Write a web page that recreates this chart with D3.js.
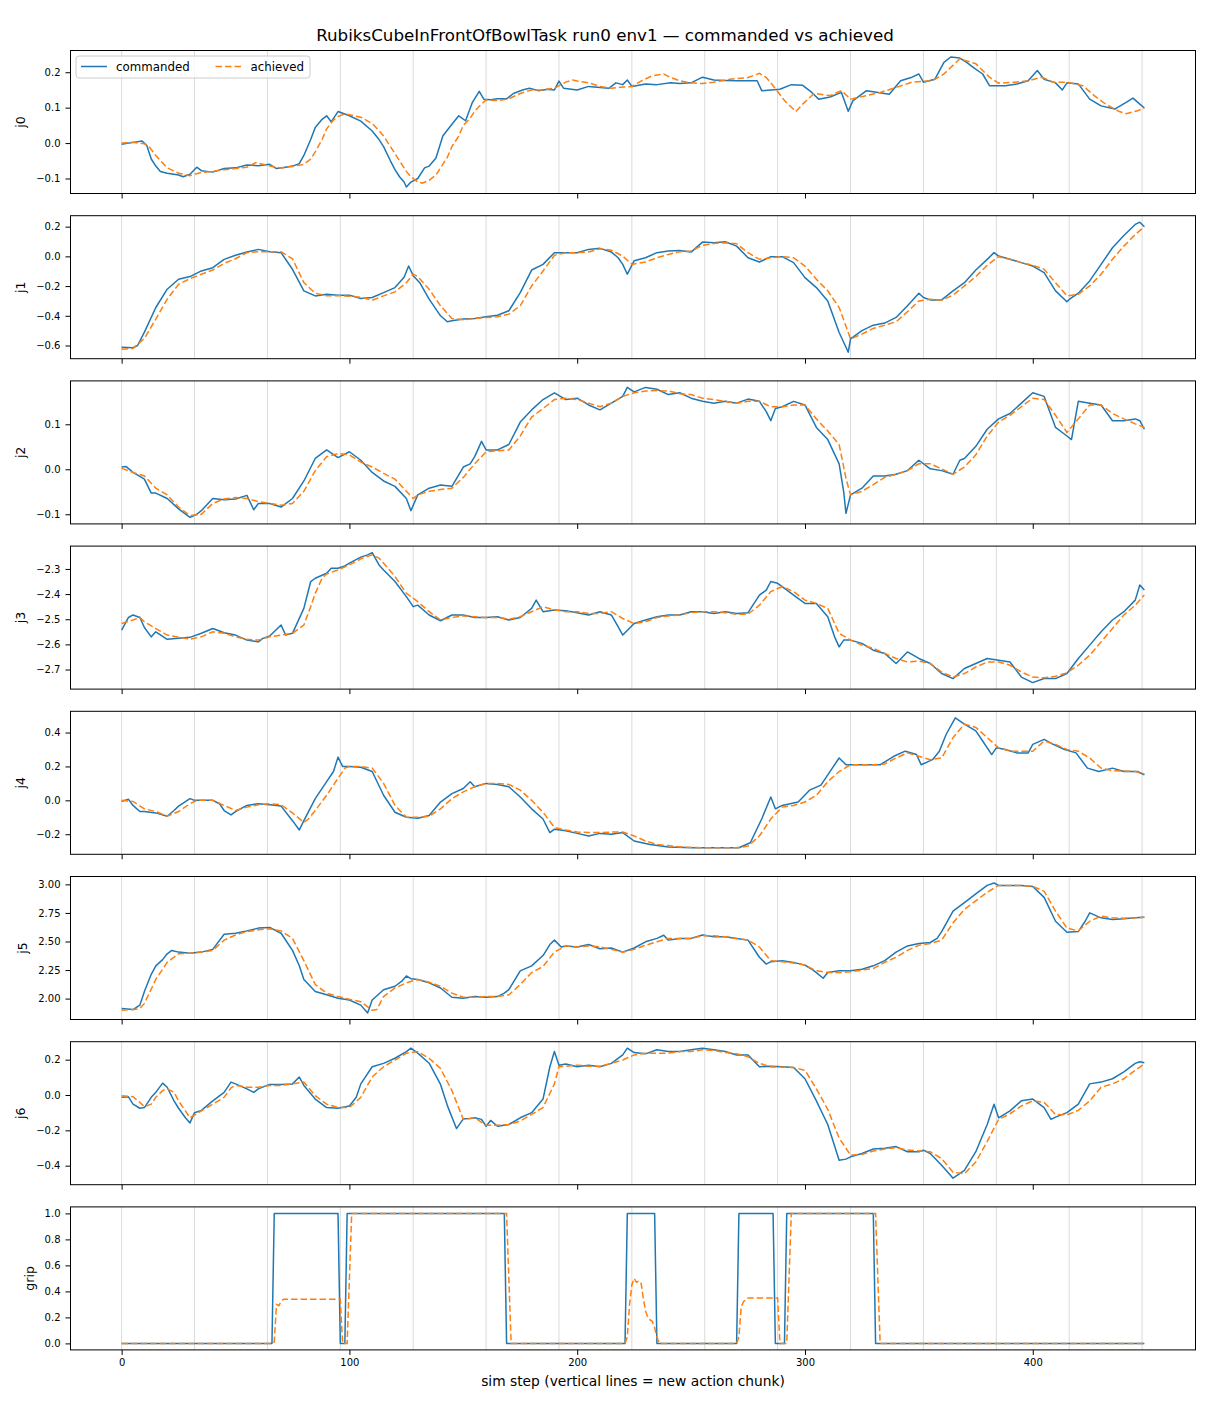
<!DOCTYPE html>
<html>
<head>
<meta charset="utf-8">
<script src="https://cdn.jsdelivr.net/npm/d3@7"></script>
<style>
  body { margin: 0; background: #fff; }
  svg text { font-family: "DejaVu Sans", sans-serif; fill: #000; }
</style>
</head>
<body>
<svg id="chart"></svg>
<script>
// values, as [sim step, value]
const chunkStarts = [0, 32, 64, 96, 128, 160, 192, 224, 256, 288, 320, 352, 384, 416, 448];
const xTickValues = [0, 100, 200, 300, 400];
const jointNames = ['j0', 'j1', 'j2', 'j3', 'j4', 'j5', 'j6', 'grip'];

const j0Commanded = [[0,-0.003],[5,0.002],[9,0.006],[11,-0.006],[13,-0.045],[15,-0.065],[17,-0.08],[20,-0.085],[25,-0.09],[27,-0.095],[30,-0.088],[33,-0.068],[35,-0.078],[40,-0.082],[45,-0.072],[50,-0.07],[55,-0.062],[60,-0.064],[65,-0.06],[68,-0.072],[72,-0.068],[75,-0.065],[78,-0.058],[80,-0.035],[83,0.01],[85,0.044],[88,0.067],[90,0.077],[92,0.06],[95,0.089],[100,0.077],[105,0.062],[110,0.034],[113,0.01],[115,-0.01],[118,-0.05],[120,-0.075],[122,-0.095],[124,-0.11],[125,-0.124],[127,-0.11],[130,-0.1],[133,-0.07],[135,-0.065],[138,-0.042],[141,0.02],[145,0.053],[148,0.077],[151,0.063],[154,0.115],[157,0.146],[159,0.124],[162,0.122],[165,0.125],[169,0.125],[172,0.14],[176,0.15],[179,0.155],[183,0.148],[187,0.152],[190,0.15],[192,0.175],[194,0.155],[200,0.15],[205,0.16],[210,0.157],[214,0.155],[217,0.17],[220,0.165],[222,0.178],[224,0.16],[230,0.167],[235,0.165],[241,0.17],[245,0.168],[250,0.17],[255,0.186],[260,0.178],[265,0.177],[270,0.176],[275,0.176],[279,0.176],[281,0.148],[285,0.15],[289,0.152],[294,0.165],[299,0.163],[303,0.143],[306,0.124],[311,0.13],[316,0.143],[319,0.09],[321,0.119],[327,0.148],[330,0.145],[337,0.138],[342,0.176],[347,0.186],[350,0.195],[352,0.172],[357,0.18],[361,0.228],[364,0.243],[368,0.24],[371,0.228],[374,0.213],[378,0.195],[381,0.162],[388,0.162],[393,0.167],[398,0.176],[402,0.205],[405,0.18],[410,0.17],[413,0.15],[415,0.17],[420,0.167],[425,0.124],[430,0.105],[436,0.096],[441,0.115],[444,0.127],[447,0.11],[449,0.099]];
const j0Achieved = [[0,0],[5,0.002],[10,-0.002],[12,-0.01],[15,-0.035],[20,-0.07],[25,-0.085],[30,-0.092],[35,-0.083],[40,-0.08],[45,-0.075],[50,-0.072],[55,-0.068],[59,-0.055],[62,-0.06],[65,-0.065],[70,-0.07],[75,-0.066],[80,-0.06],[83,-0.045],[85,-0.025],[88,0.01],[90,0.04],[93,0.065],[95,0.075],[98,0.082],[100,0.08],[105,0.073],[110,0.055],[113,0.035],[115,0.02],[118,-0.01],[120,-0.03],[123,-0.06],[125,-0.08],[127,-0.095],[130,-0.11],[132,-0.113],[135,-0.105],[138,-0.09],[140,-0.07],[143,-0.04],[145,-0.01],[148,0.02],[150,0.05],[153,0.07],[155,0.09],[158,0.11],[160,0.122],[165,0.12],[170,0.125],[175,0.14],[180,0.15],[185,0.15],[190,0.155],[195,0.172],[198,0.178],[200,0.175],[205,0.17],[210,0.16],[215,0.155],[220,0.158],[224,0.16],[228,0.175],[233,0.19],[238,0.195],[241,0.185],[245,0.176],[250,0.17],[255,0.168],[260,0.172],[267,0.18],[275,0.185],[280,0.197],[283,0.185],[286,0.162],[291,0.12],[296,0.089],[299,0.11],[304,0.14],[311,0.134],[316,0.148],[320,0.124],[327,0.134],[333,0.143],[340,0.157],[347,0.172],[356,0.176],[361,0.195],[368,0.238],[375,0.224],[381,0.186],[385,0.169],[392,0.172],[398,0.176],[404,0.186],[409,0.172],[415,0.172],[422,0.162],[427,0.134],[432,0.11],[438,0.089],[441,0.083],[446,0.091],[449,0.099]];

const j1Commanded = [[0,-0.612],[5,-0.615],[7,-0.6],[10,-0.51],[15,-0.344],[20,-0.221],[25,-0.154],[30,-0.136],[35,-0.098],[40,-0.076],[45,-0.02],[50,0.007],[55,0.029],[60,0.047],[65,0.031],[70,0.025],[75,-0.087],[80,-0.232],[85,-0.266],[90,-0.255],[95,-0.262],[100,-0.261],[105,-0.284],[110,-0.277],[115,-0.244],[120,-0.21],[124,-0.14],[126,-0.065],[128,-0.13],[131,-0.18],[135,-0.288],[140,-0.4],[143,-0.44],[145,-0.434],[150,-0.422],[155,-0.418],[160,-0.407],[165,-0.396],[170,-0.366],[175,-0.244],[180,-0.092],[185,-0.054],[190,0.025],[195,0.025],[200,0.025],[205,0.047],[210,0.054],[215,0.029],[218,-0.009],[220,-0.054],[222,-0.12],[225,-0.03],[230,-0.009],[235,0.025],[240,0.036],[245,0.04],[250,0.029],[255,0.096],[260,0.092],[265,0.098],[270,0.069],[275,-0.009],[280,-0.038],[285,-0.002],[290,-0.002],[295,-0.042],[300,-0.143],[305,-0.21],[310,-0.3],[315,-0.512],[318,-0.612],[319,-0.645],[320,-0.556],[325,-0.5],[330,-0.463],[335,-0.449],[340,-0.411],[345,-0.333],[350,-0.248],[352,-0.277],[355,-0.293],[360,-0.293],[365,-0.232],[370,-0.177],[375,-0.092],[380,-0.02],[383,0.025],[385,0.002],[390,-0.02],[395,-0.042],[400,-0.065],[405,-0.11],[410,-0.232],[415,-0.306],[416,-0.29],[420,-0.248],[425,-0.165],[430,-0.054],[435,0.058],[440,0.141],[445,0.215],[447,0.23],[449,0.199]];
const j1Achieved = [[0,-0.625],[5,-0.62],[8,-0.579],[10,-0.552],[15,-0.422],[20,-0.288],[25,-0.188],[30,-0.15],[35,-0.12],[40,-0.092],[45,-0.047],[50,-0.016],[55,0.025],[60,0.031],[65,0.031],[70,0.031],[75,-0.016],[80,-0.177],[85,-0.248],[90,-0.265],[95,-0.265],[100,-0.268],[105,-0.275],[110,-0.295],[115,-0.266],[120,-0.239],[125,-0.177],[128,-0.12],[130,-0.136],[135,-0.221],[140,-0.333],[145,-0.418],[150,-0.427],[155,-0.418],[160,-0.411],[165,-0.407],[170,-0.389],[175,-0.333],[180,-0.199],[185,-0.098],[190,0.007],[195,0.025],[200,0.025],[205,0.029],[210,0.051],[215,0.042],[220,0.002],[224,-0.054],[230,-0.038],[235,-0.009],[240,0.013],[245,0.031],[250,0.036],[255,0.074],[260,0.087],[265,0.092],[270,0.085],[275,0.025],[280,-0.02],[285,-0.009],[290,-0.002],[295,-0.009],[300,-0.065],[305,-0.154],[310,-0.232],[315,-0.344],[318,-0.47],[320,-0.556],[325,-0.523],[330,-0.485],[335,-0.463],[340,-0.44],[345,-0.373],[350,-0.3],[355,-0.288],[360,-0.295],[365,-0.261],[370,-0.199],[375,-0.136],[380,-0.06],[385,-0.002],[390,-0.02],[395,-0.042],[400,-0.06],[405,-0.087],[410,-0.177],[415,-0.266],[420,-0.255],[425,-0.199],[430,-0.12],[435,-0.02],[440,0.069],[445,0.147],[449,0.199]];

const j2Commanded = [[0,0.005],[2,0.006],[5,-0.007],[10,-0.022],[13,-0.053],[15,-0.053],[20,-0.065],[25,-0.088],[30,-0.107],[33,-0.1],[35,-0.092],[40,-0.065],[45,-0.068],[50,-0.066],[55,-0.058],[58,-0.09],[60,-0.076],[65,-0.076],[70,-0.084],[75,-0.065],[80,-0.026],[85,0.024],[90,0.043],[95,0.026],[100,0.039],[105,0.02],[110,-0.007],[115,-0.026],[120,-0.038],[125,-0.065],[127,-0.092],[130,-0.057],[135,-0.042],[140,-0.035],[145,-0.038],[150,0.005],[153,0.012],[155,0.028],[158,0.062],[160,0.043],[165,0.043],[170,0.055],[175,0.105],[180,0.132],[185,0.155],[190,0.17],[195,0.155],[200,0.158],[205,0.143],[210,0.132],[215,0.147],[220,0.162],[222,0.182],[225,0.172],[230,0.182],[235,0.178],[240,0.166],[245,0.17],[250,0.158],[255,0.151],[260,0.147],[265,0.151],[270,0.147],[275,0.156],[280,0.151],[283,0.128],[285,0.108],[287,0.135],[290,0.139],[295,0.151],[300,0.143],[305,0.093],[310,0.066],[315,0.012],[317,-0.05],[318,-0.098],[320,-0.057],[325,-0.042],[330,-0.015],[335,-0.015],[340,-0.011],[345,-0.003],[350,0.02],[355,0.001],[360,-0.003],[365,-0.011],[368,0.02],[370,0.024],[375,0.051],[380,0.089],[385,0.112],[390,0.124],[395,0.147],[400,0.17],[405,0.162],[410,0.093],[415,0.074],[417,0.066],[420,0.151],[425,0.147],[430,0.143],[435,0.108],[440,0.108],[445,0.112],[447,0.108],[449,0.089]];
const j2Achieved = [[0,0.002],[5,-0.007],[10,-0.015],[15,-0.042],[20,-0.057],[25,-0.084],[30,-0.103],[35,-0.1],[40,-0.076],[45,-0.066],[50,-0.063],[55,-0.065],[60,-0.072],[65,-0.076],[70,-0.08],[75,-0.076],[80,-0.049],[85,-0.003],[90,0.028],[95,0.035],[100,0.032],[105,0.016],[110,0.005],[115,-0.009],[120,-0.022],[125,-0.049],[128,-0.065],[130,-0.057],[135,-0.049],[140,-0.045],[145,-0.042],[150,-0.018],[155,0.012],[160,0.039],[165,0.041],[170,0.043],[175,0.074],[180,0.116],[185,0.135],[190,0.155],[195,0.158],[200,0.155],[205,0.147],[210,0.139],[215,0.147],[220,0.162],[225,0.17],[230,0.174],[235,0.175],[240,0.174],[245,0.168],[250,0.166],[255,0.158],[260,0.155],[265,0.151],[270,0.147],[275,0.151],[280,0.151],[285,0.139],[290,0.139],[295,0.143],[300,0.143],[305,0.112],[310,0.085],[315,0.055],[318,-0.02],[320,-0.057],[325,-0.049],[330,-0.034],[335,-0.018],[340,-0.011],[345,-0.003],[350,0.012],[355,0.012],[360,0.001],[365,-0.011],[370,0.005],[375,0.032],[380,0.074],[385,0.105],[390,0.12],[395,0.139],[400,0.158],[405,0.155],[410,0.12],[415,0.082],[420,0.112],[425,0.143],[430,0.143],[435,0.124],[440,0.112],[445,0.101],[449,0.093]];

const j3Commanded = [[0,-2.543],[3,-2.493],[5,-2.483],[8,-2.493],[10,-2.533],[13,-2.57],[15,-2.55],[20,-2.58],[25,-2.576],[30,-2.572],[35,-2.556],[40,-2.537],[45,-2.554],[50,-2.563],[55,-2.583],[60,-2.59],[62,-2.576],[65,-2.567],[70,-2.523],[72,-2.563],[75,-2.556],[80,-2.457],[83,-2.35],[85,-2.337],[90,-2.317],[92,-2.297],[95,-2.297],[98,-2.288],[100,-2.277],[105,-2.253],[108,-2.244],[110,-2.235],[113,-2.284],[115,-2.304],[120,-2.35],[125,-2.41],[128,-2.45],[130,-2.444],[135,-2.483],[140,-2.506],[145,-2.483],[150,-2.483],[155,-2.493],[160,-2.493],[165,-2.49],[170,-2.503],[175,-2.493],[180,-2.457],[182,-2.424],[185,-2.47],[190,-2.463],[195,-2.466],[200,-2.474],[205,-2.483],[210,-2.47],[215,-2.483],[218,-2.53],[220,-2.563],[225,-2.517],[230,-2.503],[235,-2.49],[240,-2.483],[245,-2.483],[250,-2.47],[255,-2.47],[260,-2.477],[265,-2.47],[270,-2.477],[275,-2.474],[280,-2.404],[283,-2.384],[285,-2.35],[288,-2.357],[290,-2.37],[295,-2.404],[300,-2.437],[305,-2.437],[310,-2.49],[313,-2.57],[315,-2.61],[317,-2.583],[320,-2.583],[325,-2.596],[330,-2.623],[335,-2.636],[340,-2.676],[345,-2.63],[350,-2.656],[355,-2.676],[360,-2.716],[365,-2.736],[370,-2.696],[375,-2.676],[380,-2.656],[385,-2.663],[390,-2.67],[395,-2.73],[400,-2.752],[405,-2.736],[410,-2.736],[415,-2.716],[420,-2.656],[425,-2.603],[430,-2.55],[435,-2.503],[440,-2.47],[445,-2.424],[447,-2.364],[449,-2.384]];
const j3Achieved = [[0,-2.517],[5,-2.503],[8,-2.493],[10,-2.51],[15,-2.537],[20,-2.563],[25,-2.572],[30,-2.579],[35,-2.57],[40,-2.55],[45,-2.556],[50,-2.57],[55,-2.58],[60,-2.583],[65,-2.57],[70,-2.563],[75,-2.556],[80,-2.523],[83,-2.45],[85,-2.397],[88,-2.337],[90,-2.32],[95,-2.304],[100,-2.284],[105,-2.26],[110,-2.244],[113,-2.257],[115,-2.277],[120,-2.33],[125,-2.397],[130,-2.43],[135,-2.47],[140,-2.503],[145,-2.493],[150,-2.487],[155,-2.49],[160,-2.493],[165,-2.493],[170,-2.5],[175,-2.49],[180,-2.47],[185,-2.45],[190,-2.463],[195,-2.47],[200,-2.47],[205,-2.477],[210,-2.477],[215,-2.47],[220,-2.497],[225,-2.517],[230,-2.51],[235,-2.493],[240,-2.487],[245,-2.483],[250,-2.474],[255,-2.47],[260,-2.47],[265,-2.474],[270,-2.48],[275,-2.48],[280,-2.444],[285,-2.39],[290,-2.37],[295,-2.39],[300,-2.424],[305,-2.437],[310,-2.457],[315,-2.556],[320,-2.583],[325,-2.603],[330,-2.616],[335,-2.636],[340,-2.656],[345,-2.67],[350,-2.666],[355,-2.676],[360,-2.71],[365,-2.73],[370,-2.716],[375,-2.69],[380,-2.67],[385,-2.67],[390,-2.683],[395,-2.71],[400,-2.73],[405,-2.733],[410,-2.727],[415,-2.713],[420,-2.683],[425,-2.643],[430,-2.59],[435,-2.537],[440,-2.483],[445,-2.444],[449,-2.404]];

const j4Commanded = [[0,-0.006],[3,0.006],[5,-0.03],[8,-0.066],[10,-0.066],[15,-0.074],[20,-0.094],[23,-0.06],[25,-0.034],[30,0.01],[32,0],[35,0],[40,0],[43,-0.02],[45,-0.06],[48,-0.086],[50,-0.066],[55,-0.03],[60,-0.02],[65,-0.026],[70,-0.034],[75,-0.12],[78,-0.175],[80,-0.12],[85,0.01],[90,0.11],[93,0.17],[95,0.255],[97,0.2],[100,0.199],[105,0.195],[110,0.17],[115,0.03],[120,-0.07],[125,-0.1],[130,-0.106],[135,-0.09],[140,-0.01],[145,0.04],[150,0.07],[153,0.11],[155,0.08],[160,0.1],[165,0.094],[170,0.08],[175,0.02],[180,-0.05],[185,-0.11],[188,-0.19],[190,-0.17],[195,-0.18],[200,-0.195],[205,-0.21],[210,-0.195],[215,-0.2],[220,-0.19],[225,-0.24],[232,-0.26],[240,-0.275],[251,-0.28],[261,-0.28],[271,-0.28],[276,-0.25],[281,-0.11],[285,0.02],[287,-0.05],[290,-0.03],[297,-0.01],[302,0.06],[307,0.09],[312,0.19],[315,0.25],[318,0.21],[326,0.21],[333,0.21],[339,0.26],[344,0.29],[349,0.27],[351,0.21],[356,0.24],[359,0.29],[362,0.39],[366,0.487],[370,0.45],[375,0.41],[378,0.35],[382,0.27],[384,0.31],[388,0.3],[393,0.28],[398,0.28],[400,0.33],[405,0.36],[409,0.33],[414,0.3],[419,0.28],[424,0.19],[429,0.17],[435,0.19],[440,0.17],[446,0.17],[449,0.15]];
const j4Achieved = [[0,0],[5,-0.006],[10,-0.05],[15,-0.066],[20,-0.094],[25,-0.066],[30,-0.02],[33,0],[40,0],[45,-0.03],[50,-0.06],[55,-0.04],[60,-0.026],[65,-0.02],[70,-0.026],[75,-0.074],[80,-0.13],[82,-0.11],[85,-0.06],[90,0.03],[95,0.13],[98,0.19],[100,0.199],[105,0.199],[110,0.19],[115,0.1],[120,-0.03],[125,-0.1],[130,-0.1],[135,-0.094],[140,-0.05],[145,0.01],[150,0.05],[155,0.08],[160,0.1],[165,0.1],[170,0.094],[175,0.06],[180,0],[185,-0.07],[190,-0.16],[195,-0.175],[200,-0.187],[205,-0.19],[210,-0.19],[215,-0.187],[220,-0.187],[225,-0.21],[230,-0.24],[235,-0.26],[240,-0.267],[245,-0.275],[255,-0.28],[270,-0.28],[275,-0.27],[280,-0.21],[285,-0.11],[290,-0.04],[295,-0.03],[300,-0.01],[305,0.03],[310,0.11],[315,0.17],[320,0.21],[330,0.21],[335,0.215],[340,0.25],[345,0.28],[350,0.26],[355,0.24],[360,0.25],[365,0.37],[370,0.45],[375,0.43],[380,0.37],[385,0.31],[390,0.29],[400,0.29],[405,0.35],[410,0.33],[415,0.3],[420,0.29],[425,0.25],[430,0.19],[435,0.175],[445,0.17],[449,0.155]];

const j5Commanded = [[0,1.913],[5,1.904],[8,1.943],[10,2.063],[13,2.213],[15,2.287],[18,2.341],[20,2.392],[22,2.422],[25,2.407],[30,2.398],[35,2.407],[40,2.431],[45,2.563],[50,2.572],[55,2.593],[60,2.617],[65,2.623],[70,2.572],[75,2.422],[78,2.287],[80,2.168],[85,2.063],[90,2.033],[95,2.003],[100,1.988],[105,1.943],[108,1.874],[110,1.988],[115,2.078],[120,2.108],[123,2.153],[125,2.198],[127,2.174],[130,2.168],[135,2.138],[140,2.093],[145,2.012],[150,2.003],[155,2.018],[160,2.012],[165,2.018],[168,2.048],[170,2.078],[175,2.243],[180,2.287],[185,2.377],[188,2.473],[190,2.512],[193,2.452],[195,2.461],[200,2.452],[205,2.473],[210,2.437],[215,2.443],[220,2.407],[225,2.443],[230,2.497],[235,2.527],[238,2.555],[240,2.512],[245,2.527],[250,2.527],[255,2.557],[260,2.542],[265,2.542],[270,2.527],[275,2.512],[280,2.362],[283,2.302],[285,2.323],[290,2.332],[295,2.317],[300,2.293],[303,2.257],[305,2.228],[308,2.178],[310,2.228],[315,2.243],[320,2.243],[325,2.257],[330,2.287],[335,2.332],[340,2.407],[345,2.461],[350,2.482],[355,2.491],[358,2.527],[360,2.587],[365,2.766],[370,2.841],[375,2.916],[380,2.991],[383,3.012],[385,2.991],[390,2.991],[395,2.991],[400,2.982],[405,2.886],[410,2.677],[415,2.581],[420,2.587],[423,2.677],[425,2.751],[430,2.707],[435,2.692],[440,2.698],[445,2.707],[449,2.713]];
const j5Achieved = [[0,1.898],[5,1.904],[8,1.913],[10,1.958],[15,2.168],[20,2.317],[25,2.392],[30,2.398],[35,2.407],[40,2.422],[45,2.512],[50,2.557],[55,2.587],[60,2.602],[65,2.611],[70,2.593],[75,2.527],[80,2.332],[85,2.123],[90,2.048],[95,2.018],[100,1.994],[105,1.973],[110,1.898],[112,1.904],[115,2.018],[120,2.093],[125,2.138],[130,2.168],[135,2.144],[140,2.108],[145,2.048],[150,2.012],[155,2.012],[160,2.018],[165,2.018],[170,2.033],[175,2.123],[180,2.228],[185,2.281],[190,2.407],[195,2.461],[200,2.452],[205,2.461],[210,2.452],[215,2.431],[220,2.407],[225,2.431],[230,2.467],[235,2.497],[240,2.527],[250,2.527],[255,2.551],[260,2.551],[265,2.542],[270,2.527],[275,2.512],[280,2.452],[285,2.332],[290,2.323],[295,2.311],[300,2.293],[305,2.243],[310,2.228],[315,2.228],[320,2.234],[325,2.251],[330,2.263],[335,2.317],[340,2.362],[345,2.422],[350,2.467],[355,2.482],[360,2.512],[365,2.662],[370,2.781],[375,2.856],[380,2.931],[385,2.991],[395,2.991],[400,2.982],[405,2.94],[410,2.766],[415,2.617],[420,2.593],[425,2.677],[430,2.722],[435,2.707],[440,2.704],[445,2.707],[449,2.713]];

const j6Commanded = [[0,-0.013],[3,-0.01],[5,-0.052],[8,-0.075],[10,-0.071],[13,-0.013],[15,0.015],[18,0.067],[20,0.044],[23,-0.033],[25,-0.075],[28,-0.129],[30,-0.158],[32,-0.1],[35,-0.087],[40,-0.033],[45,0.015],[48,0.073],[50,0.063],[55,0.035],[58,0.015],[60,0.035],[65,0.06],[70,0.06],[75,0.063],[78,0.102],[80,0.054],[85,-0.023],[90,-0.071],[95,-0.075],[100,-0.062],[103,-0.013],[105,0.063],[110,0.16],[115,0.179],[120,0.208],[125,0.246],[127,0.265],[130,0.237],[135,0.18],[140,0.06],[143,-0.06],[147,-0.19],[150,-0.135],[153,-0.133],[155,-0.129],[158,-0.138],[160,-0.177],[162,-0.144],[165,-0.177],[170,-0.167],[175,-0.129],[180,-0.1],[185,-0.023],[188,0.16],[190,0.246],[192,0.169],[195,0.175],[200,0.16],[205,0.169],[210,0.16],[215,0.179],[220,0.227],[222,0.265],[225,0.24],[230,0.233],[235,0.256],[240,0.246],[245,0.246],[250,0.256],[255,0.265],[260,0.256],[265,0.246],[270,0.227],[275,0.227],[280,0.16],[285,0.163],[290,0.16],[295,0.156],[300,0.092],[305,-0.033],[310,-0.167],[315,-0.369],[318,-0.363],[320,-0.35],[325,-0.331],[330,-0.306],[335,-0.302],[340,-0.292],[345,-0.321],[350,-0.321],[352,-0.312],[355,-0.331],[360,-0.398],[365,-0.471],[370,-0.427],[375,-0.321],[380,-0.167],[383,-0.052],[385,-0.129],[390,-0.09],[395,-0.033],[400,-0.023],[405,-0.071],[408,-0.138],[410,-0.125],[415,-0.1],[420,-0.052],[425,0.063],[430,0.073],[435,0.092],[440,0.131],[445,0.179],[447,0.188],[449,0.183]];
const j6Achieved = [[0,-0.004],[5,-0.01],[8,-0.042],[10,-0.067],[13,-0.052],[15,-0.013],[18,0.025],[20,0.035],[23,0.015],[25,-0.033],[28,-0.09],[30,-0.129],[33,-0.106],[35,-0.09],[40,-0.052],[45,-0.013],[48,0.04],[50,0.054],[55,0.044],[60,0.044],[65,0.054],[70,0.054],[75,0.063],[80,0.073],[85,-0.004],[90,-0.052],[95,-0.071],[100,-0.071],[105,-0.013],[110,0.102],[115,0.16],[120,0.198],[125,0.237],[130,0.246],[135,0.208],[140,0.15],[145,0.025],[150,-0.138],[155,-0.129],[160,-0.171],[165,-0.171],[170,-0.167],[175,-0.148],[180,-0.11],[185,-0.071],[190,0.063],[192,0.16],[195,0.163],[200,0.169],[205,0.163],[210,0.163],[215,0.179],[220,0.198],[225,0.227],[230,0.237],[240,0.237],[245,0.246],[250,0.246],[255,0.256],[260,0.252],[265,0.24],[270,0.233],[275,0.217],[280,0.179],[285,0.16],[295,0.156],[300,0.14],[305,0.035],[310,-0.081],[315,-0.244],[320,-0.34],[325,-0.337],[330,-0.317],[335,-0.306],[340,-0.298],[345,-0.312],[350,-0.317],[355,-0.321],[360,-0.36],[365,-0.437],[370,-0.446],[375,-0.379],[380,-0.263],[385,-0.138],[390,-0.106],[395,-0.062],[400,-0.033],[405,-0.042],[410,-0.11],[415,-0.113],[420,-0.087],[425,-0.033],[430,0.044],[435,0.063],[440,0.092],[445,0.14],[449,0.175]];

const gripCommanded = [[0,0],[66,0],[67,1],[95,1],[96,0],[98,0],[99,1],[168,1],[169,0],[221,0],[222,1],[234,1],[235,0],[270,0],[271,1],[286,1],[287,0],[291,0],[292,1],[330,1],[331,0],[449,0]];
const gripAchieved = [[0,0],[66,0],[67,0.01],[68,0.3],[69,0.29],[70,0.32],[71,0.34],[96,0.34],[97,0],[99,0],[100,0.5],[101,1],[169,1],[170,0.5],[171,0],[221,0],[222,0.05],[223,0.3],[224,0.45],[225,0.5],[226,0.47],[227,0.48],[228,0.47],[229,0.35],[230,0.25],[231,0.2],[232,0.18],[233,0.17],[234,0.12],[235,0.05],[236,0],[270,0],[271,0.05],[272,0.28],[273,0.32],[275,0.35],[288,0.35],[289,0],[292,0],[293,0.5],[294,1],[331,1],[332,0.5],[333,0],[449,0]];

const j0Ticks = ['−0.1', '0.0', '0.1', '0.2'];
const j1Ticks = ['−0.6', '−0.4', '−0.2', '0.0', '0.2'];
const j2Ticks = ['−0.1', '0.0', '0.1'];
const j3Ticks = ['−2.7', '−2.6', '−2.5', '−2.4', '−2.3'];
const j4Ticks = ['−0.2', '0.0', '0.2', '0.4'];
const j5Ticks = ['2.00', '2.25', '2.50', '2.75', '3.00'];
const j6Ticks = ['−0.4', '−0.2', '0.0', '0.2'];
const gripTicks = ['0.0', '0.2', '0.4', '0.6', '0.8', '1.0'];

const panels = [
  { cmd: j0Commanded, ach: j0Achieved, ticks: j0Ticks },
  { cmd: j1Commanded, ach: j1Achieved, ticks: j1Ticks },
  { cmd: j2Commanded, ach: j2Achieved, ticks: j2Ticks },
  { cmd: j3Commanded, ach: j3Achieved, ticks: j3Ticks },
  { cmd: j4Commanded, ach: j4Achieved, ticks: j4Ticks },
  { cmd: j5Commanded, ach: j5Achieved, ticks: j5Ticks },
  { cmd: j6Commanded, ach: j6Achieved, ticks: j6Ticks },
  { cmd: gripCommanded, ach: gripAchieved, ticks: gripTicks },
].map((p, i) => ({ ...p, name: jointNames[i] }));

// layout
const W = 1210, H = 1408;
const axLeft = 70.5, axW = 1125, axH = 143, top0 = 50.5, pitch = 165.2;
const blue = '#1f77b4', orange = '#ff7f0e';
const tickNum = s => +s.replace('−', '-');

const svg = d3.select('#chart').attr('width', W).attr('height', H);

const lastStep = d3.max(panels, p => d3.max(p.cmd, d => d[0]));
const x = d3.scaleLinear()
  .domain([-0.05 * lastStep, 1.05 * lastStep])
  .range([axLeft, axLeft + axW]);

const line = (y) => d3.line().x(d => x(d[0])).y(d => y(d[1]));

panels.forEach((p, i) => {
  const g = svg.append('g').attr('transform', `translate(0,${top0 + i * pitch})`);
  const ext = d3.extent(p.cmd.concat(p.ach), d => d[1]);
  const pad = (ext[1] - ext[0]) * 0.05;
  const y = d3.scaleLinear().domain([ext[0] - pad, ext[1] + pad]).range([axH, 0]);

  g.selectAll('line.chunk')
    .data(chunkStarts)
    .enter()
    .append('line')
    .attr('class', 'chunk')
    .attr('x1', d => x(d)).attr('x2', d => x(d))
    .attr('y1', 0).attr('y2', axH)
    .attr('stroke', '#dadada')
    .attr('stroke-width', 1);

  g.append('path')
    .datum(p.cmd)
    .attr('d', line(y))
    .attr('fill', 'none')
    .attr('stroke', blue)
    .attr('stroke-width', 1.5)
    .attr('stroke-linejoin', 'round');

  g.append('path')
    .datum(p.ach)
    .attr('d', line(y))
    .attr('fill', 'none')
    .attr('stroke', orange)
    .attr('stroke-width', 1.5)
    .attr('stroke-dasharray', '6.5,3');

  g.append('rect')
    .attr('x', axLeft).attr('y', 0)
    .attr('width', axW).attr('height', axH)
    .attr('fill', 'none')
    .attr('stroke', '#000')
    .attr('stroke-width', 1);

  const yAxis = g.append('g')
    .attr('transform', `translate(${axLeft},0)`)
    .call(d3.axisLeft(y)
      .tickValues(p.ticks.map(tickNum))
      .tickFormat((d, k) => p.ticks[k])
      .tickSize(5)
      .tickPadding(5));
  yAxis.select('.domain').remove();
  yAxis.selectAll('text').attr('font-size', 10).attr('font-family', 'DejaVu Sans');

  const isLast = i === panels.length - 1;
  const xAxis = g.append('g')
    .attr('transform', `translate(0,${axH})`)
    .call(d3.axisBottom(x)
      .tickValues(xTickValues)
      .tickFormat(isLast ? d3.format('d') : () => '')
      .tickSize(5)
      .tickPadding(4));
  xAxis.select('.domain').remove();
  xAxis.selectAll('text').attr('font-size', 10).attr('font-family', 'DejaVu Sans');

  // y label sits just left of the widest tick label
  let minX = Infinity;
  yAxis.selectAll('text').each(function() {
    const b = this.getBBox();
    minX = Math.min(minX, axLeft + b.x);
  });
  g.append('text')
    .attr('transform', `translate(${minX - 11},${axH / 2}) rotate(-90)`)
    .attr('text-anchor', 'middle')
    .attr('font-size', 12.5)
    .text(p.name);

  if (i === 0) {
    const lg = g.append('g').attr('transform', `translate(76,5.5)`);
    lg.append('rect')
      .attr('width', 234).attr('height', 22).attr('rx', 3)
      .attr('fill', '#fff').attr('fill-opacity', 0.8)
      .attr('stroke', '#cccccc').attr('stroke-width', 1);
    const items = [
      { label: 'commanded', color: blue, dash: null, x: 5 },
      { label: 'achieved', color: orange, dash: '6.5,3', x: 139.5 },
    ];
    items.forEach(it => {
      lg.append('line')
        .attr('x1', it.x).attr('x2', it.x + 26)
        .attr('y1', 10.5).attr('y2', 10.5)
        .attr('stroke', it.color).attr('stroke-width', 1.5)
        .attr('stroke-dasharray', it.dash);
      lg.append('text')
        .attr('x', it.x + 35).attr('y', 14.8)
        .attr('font-size', 11.8)
        .text(it.label);
    });
  }
});

svg.append('text')
  .attr('x', W / 2).attr('y', 41)
  .attr('text-anchor', 'middle')
  .attr('font-size', 16.7)
  .text('RubiksCubeInFrontOfBowlTask run0 env1 — commanded vs achieved');

svg.append('text')
  .attr('x', axLeft + axW / 2).attr('y', 1386)
  .attr('text-anchor', 'middle')
  .attr('font-size', 13.8)
  .text('sim step (vertical lines = new action chunk)');
</script>
</body>
</html>
